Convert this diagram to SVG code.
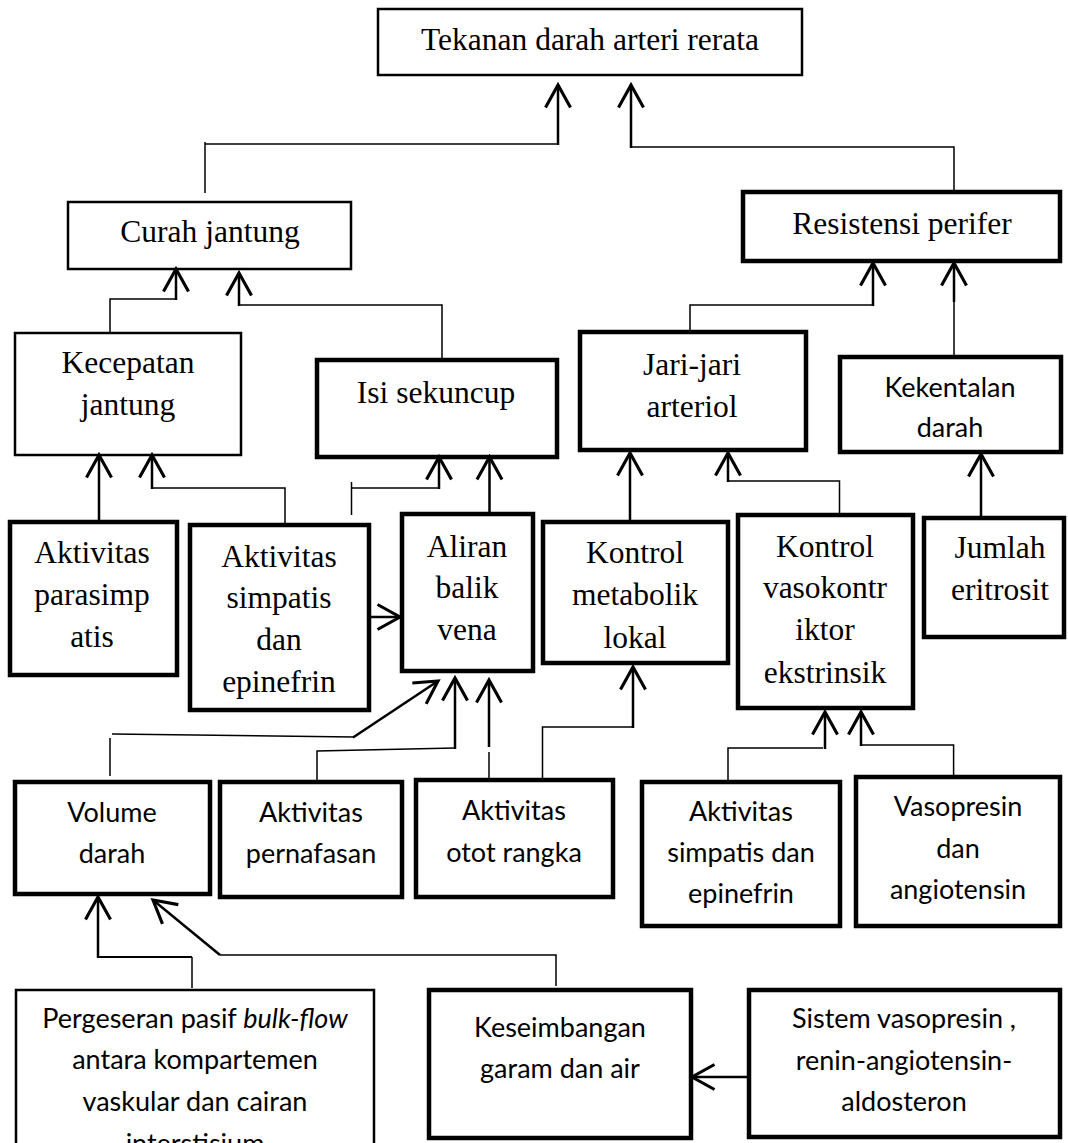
<svg xmlns="http://www.w3.org/2000/svg" width="1068" height="1143" viewBox="0 0 1068 1143">
<style>
.bg{fill:#fff}
.thin{fill:#fff;stroke:#000;stroke-width:2.5}
.thick{fill:#fff;stroke:#000;stroke-width:4.5}
.s{font-family:"Liberation Serif","Times New Roman",serif;font-size:31.5px;fill:#000;text-anchor:middle}
.c{font-family:Lato,"Noto Sans",sans-serif;font-size:27px;fill:#000;text-anchor:middle}
.ln{fill:none;stroke:#000;stroke-width:1.5}
.ar{fill:none;stroke:#000;stroke-width:2.5;marker-end:url(#ah)}
</style>
<defs>
<marker id="ah" markerUnits="userSpaceOnUse" markerWidth="30" markerHeight="30" viewBox="-20 -12 24 24" refX="0" refY="0" orient="auto" overflow="visible">
<path d="M-18,-10 L0,0 L-18,10" fill="none" stroke="#000" stroke-width="2.5"/>
</marker>
</defs>
<rect class="bg" x="0" y="0" width="1068" height="1143"/>
<g id="n-tekanan"><rect class="thin" x="378" y="9" width="424" height="66"/><text class="s" x="590" y="50">Tekanan darah arteri rerata</text></g>
<g id="n-curah"><rect class="thin" x="68" y="202" width="283" height="67"/><text class="s" x="210" y="242">Curah jantung</text></g>
<g id="n-resistensi"><rect class="thick" x="743" y="192" width="317" height="69"/><text class="s" x="902" y="234">Resistensi perifer</text></g>
<g id="n-kecepatan"><rect class="thin" x="15" y="333" width="226" height="122"/><text class="s" x="128" y="373">Kecepatan</text><text class="s" x="128" y="415">jantung</text></g>
<g id="n-isi"><rect class="thick" x="317" y="360" width="240" height="97"/><text class="s" x="436" y="403">Isi sekuncup</text></g>
<g id="n-jari"><rect class="thick" x="580" y="332" width="226" height="118"/><text class="s" x="692" y="375">Jari-jari</text><text class="s" x="692" y="417">arteriol</text></g>
<g id="n-kekentalan"><rect class="thick" x="840" y="357" width="221" height="95"/><text class="c" x="950" y="397">Kekentalan</text><text class="c" x="950" y="437">darah</text></g>
<g id="n-parasimpatis"><rect class="thick" x="10" y="522" width="167" height="153"/><text class="s" x="92" y="563">Aktivitas</text><text class="s" x="92" y="605">parasimp</text><text class="s" x="92" y="647">atis</text></g>
<g id="n-simpatis"><rect class="thick" x="190" y="525" width="179" height="185"/><text class="s" x="279" y="567">Aktivitas</text><text class="s" x="279" y="608">simpatis</text><text class="s" x="279" y="650">dan</text><text class="s" x="279" y="692">epinefrin</text></g>
<g id="n-aliran"><rect class="thick" x="402" y="514" width="131" height="157"/><text class="s" x="467" y="557">Aliran</text><text class="s" x="467" y="598">balik</text><text class="s" x="467" y="640">vena</text></g>
<g id="n-metabolik"><rect class="thick" x="543" y="522" width="185" height="141"/><text class="s" x="635" y="563">Kontrol</text><text class="s" x="635" y="605">metabolik</text><text class="s" x="635" y="648">lokal</text></g>
<g id="n-vaso"><rect class="thick" x="738" y="515" width="175" height="193"/><text class="s" x="825" y="557">Kontrol</text><text class="s" x="825" y="598">vasokontr</text><text class="s" x="825" y="640">iktor</text><text class="s" x="825" y="683">ekstrinsik</text></g>
<g id="n-jumlah"><rect class="thick" x="924" y="518" width="140" height="119"/><text class="s" x="1000" y="558">Jumlah</text><text class="s" x="1000" y="600">eritrosit</text></g>
<g id="n-volume"><rect class="thick" x="15" y="782" width="195" height="112"/><text class="c" x="112" y="822">Volume</text><text class="c" x="112" y="863">darah</text></g>
<g id="n-pernafasan"><rect class="thick" x="220" y="782" width="182" height="115"/><text class="c" x="311" y="822">Aktivitas</text><text class="c" x="311" y="863">pernafasan</text></g>
<g id="n-otot"><rect class="thick" x="416" y="780" width="197" height="117"/><text class="c" x="514" y="820">Aktivitas</text><text class="c" x="514" y="862">otot rangka</text></g>
<g id="n-simpatis2"><rect class="thick" x="642" y="782" width="198" height="144"/><text class="c" x="741" y="821">Aktivitas</text><text class="c" x="741" y="862">simpatis dan</text><text class="c" x="741" y="903">epinefrin</text></g>
<g id="n-vasopresin"><rect class="thick" x="856" y="777" width="204" height="149"/><text class="c" x="958" y="816">Vasopresin</text><text class="c" x="958" y="858">dan</text><text class="c" x="958" y="899">angiotensin</text></g>
<g id="n-pergeseran"><rect class="thin" x="16" y="990" width="358" height="170"/><text class="c" x="195" y="1028">Pergeseran pasif <tspan font-style="italic">bulk-flow</tspan></text><text class="c" x="195" y="1069">antara kompartemen</text><text class="c" x="195" y="1111">vaskular dan cairan</text><text class="c" x="195" y="1153">interstisium</text></g>
<g id="n-keseimbangan"><rect class="thick" x="429" y="990" width="262" height="148"/><text class="c" x="560" y="1037">Keseimbangan</text><text class="c" x="560" y="1078">garam dan air</text></g>
<g id="n-sistem"><rect class="thick" x="749" y="990" width="311" height="147"/><text class="c" x="904" y="1028">Sistem vasopresin ,</text><text class="c" x="904" y="1070">renin-angiotensin-</text><text class="c" x="904" y="1111">aldosteron</text></g>
<g id="connectors">
<polyline class="ln" points="205,193 205,142"/>
<polyline class="ln" points="205,144 558,144"/>
<line class="ar" x1="558" y1="145" x2="558" y2="85"/>
<polyline class="ln" points="954,190 954,147 631,147"/>
<line class="ar" x1="631" y1="148" x2="631" y2="85"/>
<polyline class="ln" points="110,333 110,299 176,299"/>
<line class="ar" x1="176" y1="300" x2="176" y2="269"/>
<polyline class="ln" points="442,360 442,305 239,305"/>
<line class="ar" x1="239" y1="306" x2="239" y2="273"/>
<polyline class="ln" points="690,332 690,305 873,305"/>
<line class="ar" x1="873" y1="306" x2="873" y2="263"/>
<line class="ln" x1="954" y1="357" x2="954" y2="300"/>
<line class="ar" x1="954" y1="302" x2="954" y2="263"/>
<line class="ar" x1="99" y1="520" x2="99" y2="455"/>
<polyline class="ln" points="285,525 285,488 152,488"/>
<line class="ar" x1="152" y1="489" x2="152" y2="455"/>
<line class="ln" x1="351.5" y1="515" x2="351.5" y2="482"/>
<line class="ln" x1="351.5" y1="488" x2="439" y2="488"/>
<line class="ar" x1="439" y1="489" x2="439" y2="457"/>
<line class="ar" x1="489.5" y1="514" x2="489.5" y2="457"/>
<line class="ar" x1="369" y1="617" x2="400" y2="617"/>
<line class="ar" x1="630" y1="520" x2="630" y2="453"/>
<polyline class="ln" points="839.5,513 839.5,481 728,481"/>
<line class="ar" x1="728" y1="482" x2="728" y2="453"/>
<line class="ar" x1="981" y1="517" x2="981" y2="454"/>
<line class="ln" x1="110" y1="776" x2="110" y2="738"/>
<line class="ln" x1="112" y1="734" x2="354" y2="737"/>
<line class="ar" x1="353" y1="737.5" x2="438" y2="681"/>
<polyline class="ln" points="317,782 317,751 455,748"/>
<line class="ar" x1="455" y1="749" x2="455" y2="678"/>
<line class="ln" x1="489" y1="780" x2="489" y2="752"/>
<line class="ar" x1="489" y1="747" x2="489" y2="680"/>
<polyline class="ln" points="542.5,778 542.5,727 633,727"/>
<line class="ar" x1="633" y1="728" x2="633" y2="667"/>
<polyline class="ln" points="728,780 728,748 823,748"/>
<line class="ar" x1="825" y1="749" x2="825" y2="712"/>
<polyline class="ln" points="953.6,775 953.6,745 861,745"/>
<line class="ar" x1="861" y1="746" x2="861" y2="712"/>
<polyline class="ln" points="192,988 192,957"/>
<line class="ln" x1="192" y1="957" x2="98" y2="957" style="stroke-width:2"/>
<line class="ar" x1="98" y1="958" x2="98" y2="897"/>
<polyline class="ln" points="556,986 556,955 220,955"/>
<line class="ar" x1="220" y1="955" x2="153" y2="900"/>
<line class="ar" x1="749" y1="1077" x2="692" y2="1077"/>
</g>
</svg>
